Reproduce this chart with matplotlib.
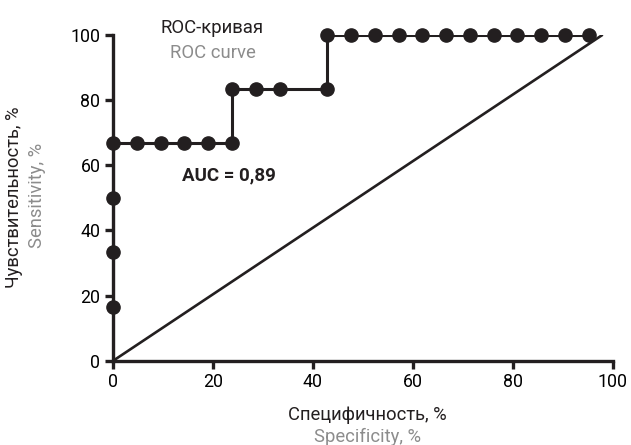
import numpy as np
import matplotlib
matplotlib.use("Agg")
import matplotlib.pyplot as plt

plt.rcParams['font.family'] = ['Roboto', 'DejaVu Sans']

# ROC points (specificity axis as drawn, sensitivity)
roc_x = [0, 0, 0, 0, 0, 4.76, 9.52, 14.29, 19.05, 23.81, 23.81, 28.57, 33.33, 42.86,
         42.86, 47.62, 52.38, 57.14, 61.90, 66.67, 71.43, 76.19, 80.95, 85.71, 90.48, 95.24]
roc_y = [0, 16.67, 33.33, 50.0, 66.67, 66.67, 66.67, 66.67, 66.67, 66.67, 83.33, 83.33, 83.33, 83.33,
         100, 100, 100, 100, 100, 100, 100, 100, 100, 100, 100, 100]
diag_x = [0, 98]
diag_y = [0, 100]
ticks = [0, 20, 40, 60, 80, 100]
auc_text = "AUC = 0,89"

dark = "#231f20"
gray = "#8c8c8c"

fig = plt.figure(figsize=(6.31, 4.45), dpi=100)
ax = fig.add_axes([0.179, 0.189, 0.792, 0.733])

ax.plot(diag_x, diag_y, color=dark, lw=1.9, solid_capstyle='butt', zorder=2)
ax.plot(roc_x, roc_y, color=dark, lw=2.2, zorder=3)
# markers (no marker at origin)
ax.plot(roc_x[1:], roc_y[1:], 'o', color=dark, ms=9.5, zorder=4, clip_on=False)

ax.set_xlim(0, 100)
ax.set_ylim(0, 100)
ax.set_xticks(ticks)
ax.set_yticks(ticks)
for s in ['top', 'right']:
    ax.spines[s].set_visible(False)
for s in ['left', 'bottom']:
    ax.spines[s].set_linewidth(2.4)
    ax.spines[s].set_color(dark)
ax.tick_params(width=2.4, length=6, color=dark, labelsize=12.8, pad=3)

ax.text(23.3, 57, auc_text, fontsize=13.5, fontweight='bold', color=dark,
        ha='center', va='center')

fig.text(0.336, 0.937, "ROC-кривая", fontsize=13.3, color=dark, ha='center', va='center')
fig.text(0.338, 0.881, "ROC curve", fontsize=13.3, color=gray, ha='center', va='center')

fig.text(0.582, 0.068, "Специфичность, %", fontsize=13.2, color=dark, ha='center', va='center')
fig.text(0.582, 0.018, "Specificity, %", fontsize=13.2, color=gray, ha='center', va='center')

fig.text(0.022, 0.557, "Чувствительность, %", fontsize=13.2, color=dark, ha='center', va='center',
         rotation=90)
fig.text(0.058, 0.560, "Sensitivity, %", fontsize=13.2, color=gray, ha='center', va='center',
         rotation=90)

fig.savefig("out.png", dpi=100)
